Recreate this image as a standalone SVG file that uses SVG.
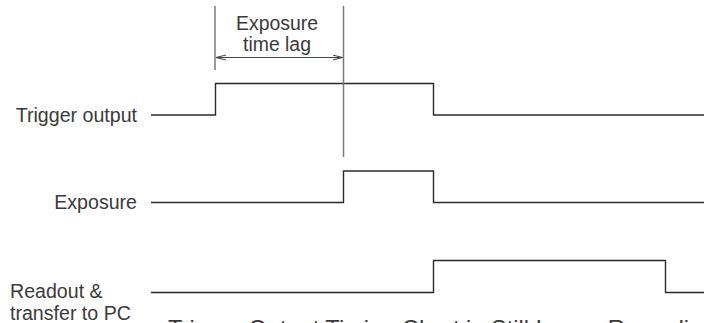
<svg xmlns="http://www.w3.org/2000/svg" width="704" height="323" viewBox="0 0 704 323">
<style>
.sig{fill:none;stroke:#2a2a2a;stroke-width:1.4}
.mark{fill:none;stroke:#7a7a7a;stroke-width:1.5}
.dim{fill:none;stroke:#444;stroke-width:1}
text{font-family:"Liberation Sans",Arial,sans-serif;fill:#3a3a3a;font-size:19.6px}
.lbl{text-anchor:end}
.mid{text-anchor:middle;font-size:19.4px}
.title{font-size:23.6px}
</style>
<defs>
<marker id="ah" viewBox="0 0 10 10" refX="10" refY="5" markerWidth="10" markerHeight="10" markerUnits="userSpaceOnUse" orient="auto-start-reverse">
<path d="M0,2.5 L10,5 L0,7.5" fill="none" stroke="#444" stroke-width="1"/>
</marker>
</defs>
<rect width="704" height="323" fill="#fff"/>
<g id="trigger">
<text class="lbl" x="137" y="122">Trigger output</text>
<path class="sig" d="M151,115 H215.5 V83.5 H433.5 V115 H704"/>
</g>
<g id="exposure">
<text class="lbl" x="137" y="209">Exposure</text>
<path class="sig" d="M151,202.5 H343.5 V171 H433.5 V202.5 H704"/>
</g>
<g id="readout">
<text x="10" y="298">Readout &amp;</text>
<text x="10" y="320">transfer to PC</text>
<path class="sig" d="M151,292.5 H433.5 V260.5 H665.5 V292.5 H704"/>
</g>
<g id="connectors">
<line class="mark" x1="215" y1="6" x2="215" y2="70"/>
<line class="mark" x1="343.5" y1="6" x2="343.5" y2="157"/>
<line class="dim" x1="216" y1="57.5" x2="342.5" y2="57.5" marker-start="url(#ah)" marker-end="url(#ah)"/>
</g>
<g id="lag-label">
<text class="mid" x="277" y="30">Exposure</text>
<text class="mid" x="277" y="51">time lag</text>
</g>
<text class="title" x="168" y="337">Trigger Output Timing Chart in Still Image Recording</text>
</svg>
